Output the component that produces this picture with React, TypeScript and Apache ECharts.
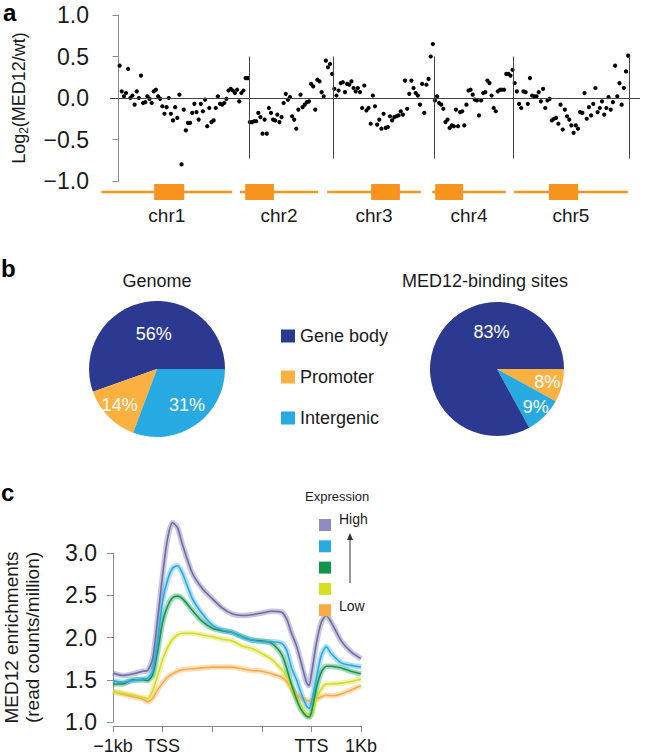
import React, { useEffect, useRef } from 'react';
import * as echarts from 'echarts';

const FONT = '"Liberation Sans", Arial, Helvetica, sans-serif';

// ---------- Panel a: genome-wide log2 ratio ----------
const chrNames = ['chr1', 'chr2', 'chr3', 'chr4', 'chr5'];
const chrLengths = [30.4, 19.7, 23.5, 18.6, 27.0]; // Mb
const chr1Values = [0.39, 0.08, 0.02, 0.06, 0.35, 0.0, 0.03, -0.08, 0.08, 0.0, 0.27, -0.06, -0.05, 0.02, -0.01, -0.06, 0.08, 0.1, 0.02, -0.01, -0.1, -0.19, -0.11, 0.0, -0.19, -0.27, -0.11, -0.24, 0.04, -0.8, -0.14, -0.39, -0.3, -0.3, -0.18, -0.07, -0.17, -0.26, -0.07, -0.16, -0.02, -0.34, -0.12, -0.29, -0.27, -0.12, 0.02, -0.07, -0.08, -0.06, -0.01, 0.09, 0.11, 0.09, 0.06, 0.1, -0.04, 0.06, 0.09, 0.24, 0.24];
const chr2Values = [-0.29, -0.29, -0.28, -0.28, -0.18, -0.23, -0.43, -0.26, -0.43, -0.12, -0.18, -0.26, -0.27, -0.2, -0.29, -0.23, -0.06, 0.05, -0.02, 0.01, -0.22, -0.26, -0.37, -0.14, 0.04, -0.11, -0.08, -0.05, -0.04, 0.17, 0.14, -0.14, 0.22, 0.2, 0.07, 0.02, 0.45, 0.37, 0.41, 0.29];
const chr3Values = [0.11, 0.03, 0.09, 0.18, 0.19, 0.07, 0.17, 0.16, 0.2, 0.12, 0.08, 0.12, 0.07, -0.12, 0.15, -0.15, -0.12, -0.31, 0.03, -0.1, -0.32, -0.26, -0.37, -0.19, -0.36, -0.35, -0.22, -0.27, -0.23, -0.22, -0.21, -0.16, -0.2, 0.21, -0.13, 0.05, 0.21, 0.12, 0.06, 0.03, -0.08, 0.17, -0.18, 0.16, 0.23, 0.5, 0.65];
const chr4Values = [-0.03, 0.02, -0.06, -0.08, -0.13, -0.29, -0.26, -0.36, -0.33, -0.34, -0.14, -0.34, -0.17, -0.16, -0.33, -0.08, 0.09, 0.1, 0.04, -0.02, -0.03, -0.21, -0.03, 0.06, 0.07, 0.21, 0.18, 0.03, -0.12, -0.16, 0.08, 0.1, 0.1, 0.1, 0.29, 0.29, 0.27, 0.34];
const chr5Values = [0.18, 0.08, -0.07, -0.12, 0.08, 0.07, -0.07, 0.24, 0.03, 0.02, 0.02, 0.07, -0.04, 0.11, -0.12, -0.03, -0.01, -0.27, -0.25, -0.24, -0.31, -0.08, -0.38, -0.14, -0.22, -0.26, -0.33, -0.42, -0.33, -0.37, -0.17, -0.18, 0.06, -0.25, -0.11, -0.21, -0.07, 0.12, -0.17, -0.12, -0.04, -0.2, -0.12, 0.01, -0.14, -0.05, 0.39, 0.02, 0.18, -0.08, 0.12, 0.32, 0.51];
const chrValues = [chr1Values, chr2Values, chr3Values, chr4Values, chr5Values];

// chromosome ideogram (Mb, cumulative)
const ideoLineStart = [-1.9, 29.9, 49.9, 74.0, 92.8];
const ideoLineEnd = [28.1, 47.8, 71.4, 90.9, 118.9];
const centroStart = [10.2, 31.1, 60.0, 74.7, 100.8];
const centroEnd = [17.1, 37.7, 66.6, 81.1, 107.5];

// ---------- Panel b: pies ----------
const pieCategories = ['Gene body', 'Promoter', 'Intergenic'];
const genomePct = [56, 14, 31];
const med12Pct = [83, 8, 9];

// ---------- Panel c: metagene profiles ----------
const profileX = [0, 0.2, 0.4, 0.6, 0.7, 0.8, 0.9, 1.0, 1.1, 1.2, 1.3, 1.4, 1.6, 1.8, 2.0, 2.2, 2.4, 2.6, 2.8, 3.0, 3.2, 3.4, 3.5, 3.6, 3.7, 3.8, 3.9, 3.95, 4.0, 4.1, 4.2, 4.3, 4.4, 4.6, 4.8, 5.0];
const xTickLabels: Record<number, string> = { 0: '−1kb', 1: 'TSS', 4: 'TTS', 5: '1Kb' };
const highValues = [1.58, 1.55, 1.57, 1.6, 1.61, 1.75, 2.22, 2.74, 3.17, 3.36, 3.3, 3.1, 2.76, 2.58, 2.46, 2.35, 2.28, 2.26, 2.27, 2.29, 2.31, 2.3, 2.22, 2.05, 1.9, 1.69, 1.47, 1.43, 1.56, 1.93, 2.18, 2.26, 2.18, 1.96, 1.83, 1.75];
const q4Values = [1.49, 1.47, 1.49, 1.51, 1.52, 1.6, 1.95, 2.43, 2.68, 2.82, 2.85, 2.76, 2.46, 2.28, 2.15, 2.09, 2.06, 2.01, 1.97, 1.95, 1.95, 1.93, 1.85, 1.64, 1.5, 1.33, 1.19, 1.16, 1.23, 1.52, 1.79, 1.89, 1.81, 1.7, 1.67, 1.65];
const q3Values = [1.45, 1.45, 1.5, 1.5, 1.49, 1.56, 1.84, 2.18, 2.37, 2.47, 2.49, 2.46, 2.32, 2.19, 2.11, 2.08, 2.06, 2.01, 1.97, 1.96, 1.93, 1.8, 1.64, 1.44, 1.27, 1.14, 1.07, 1.06, 1.11, 1.4, 1.59, 1.66, 1.66, 1.64, 1.6, 1.57];
const q2Values = [1.36, 1.34, 1.32, 1.29, 1.28, 1.37, 1.55, 1.74, 1.88, 1.98, 2.03, 2.05, 2.05, 2.03, 2.01, 1.98, 1.96, 1.9, 1.87, 1.81, 1.74, 1.62, 1.53, 1.4, 1.28, 1.17, 1.09, 1.07, 1.08, 1.27, 1.39, 1.45, 1.45, 1.46, 1.48, 1.51];
const lowValues = [1.36, 1.33, 1.3, 1.27, 1.24, 1.28, 1.38, 1.46, 1.53, 1.57, 1.6, 1.62, 1.63, 1.64, 1.65, 1.65, 1.65, 1.63, 1.61, 1.6, 1.57, 1.53, 1.48, 1.4, 1.33, 1.28, 1.26, 1.25, 1.24, 1.27, 1.3, 1.32, 1.31, 1.33, 1.38, 1.43];
const profileNames = ['High', 'Upper-middle', 'Middle', 'Lower-middle', 'Low'];
const profileValues = [highValues, q4Values, q3Values, q2Values, lowValues];
const profileColors = ['#6f6ca8', '#29abe2', '#13994a', '#d4dc2a', '#f9aa4c'];
const legendColors = ['#8f8cc2', '#29abe2', '#0f964a', '#d7df23', '#fbab45'];

const ORANGE = '#f7941d';
const NAVY = '#2b3990';
const PROMOTER = '#fbb040';
const INTERGENIC = '#27aae1';
const pieColors = [NAVY, PROMOTER, INTERGENIC];

export default function App() {
  const ref = useRef<HTMLDivElement>(null);
  useEffect(() => {
    if (!ref.current) return;
    const chart = echarts.init(ref.current, undefined, { renderer: 'svg' });

    const chrStart: number[] = [];
    let acc = 0;
    chrLengths.forEach((l) => { chrStart.push(acc); acc += l; });
    const chrEnds = chrStart.map((s, i) => s + chrLengths[i]);
    const scatterData: number[][] = [];
    chrValues.forEach((vals, c) => {
      const step = chrLengths[c] / vals.length;
      vals.forEach((v, i) => scatterData.push([chrStart[c] + (i + 0.5) * step, v]));
    });

    const ideoData = chrNames.map((_, i) => [ideoLineStart[i], ideoLineEnd[i], centroStart[i], centroEnd[i]]);

    const genomeOffsets = [[3, 1], [-11, 10], [9, 6]];
    const med12Order = [1, 2, 0];
    const med12Offsets = [[15, 4], [13, 12], [26, -18]];

    const axisGrey = '#8a8a8a';

    const bandSeries = profileValues.map((vals, k) => ({
      type: 'line',
      xAxisIndex: 2,
      yAxisIndex: 2,
      data: profileX.map((x, i) => [x, vals[i]]),
      smooth: 0.25,
      showSymbol: false,
      clip: false,
      silent: true,
      z: 2,
      lineStyle: { color: profileColors[k], width: 5.5, opacity: 0.38 },
      itemStyle: { color: profileColors[k] },
      ...(k === 4
        ? {
            markLine: {
              silent: true,
              symbol: ['none', 'none'],
              label: { show: false },
              lineStyle: { color: '#d4d4d4', width: 1.5, type: 'solid' },
              data: [
                [{ coord: [1, 1] }, { coord: [1, 3.46] }],
                [{ coord: [4, 1] }, { coord: [4, 3.46] }],
              ],
            },
          }
        : {}),
    }));
    const lineSeries = profileValues.map((vals, k) => ({
      type: 'line',
      name: profileNames[k],
      xAxisIndex: 2,
      yAxisIndex: 2,
      data: profileX.map((x, i) => [x, vals[i]]),
      smooth: 0.25,
      showSymbol: false,
      clip: false,
      silent: true,
      z: 3,
      lineStyle: { color: profileColors[k], width: 1.6 },
      itemStyle: { color: legendColors[k] },
    }));

    const option: any = {
      animation: false,
      textStyle: { fontFamily: FONT },
      grid: [
        { left: 101, top: 15, width: 539, height: 166 },
        { left: 101, top: 184, width: 539, height: 16 },
        { left: 104, top: 553, width: 257, height: 169 },
      ],
      xAxis: [
        { type: 'value', gridIndex: 0, min: -2, max: 121.7, show: false },
        { type: 'value', gridIndex: 1, min: -2, max: 121.7, show: false },
        {
          type: 'value', gridIndex: 2, min: 0, max: 5, interval: 1, offset: 4,
          axisLine: { show: true, lineStyle: { color: axisGrey, width: 1 } },
          axisTick: { show: true, length: 6, lineStyle: { color: axisGrey } },
          splitLine: { show: false },
          axisLabel: {
            fontSize: 18, color: '#1a1a1a', margin: 11, fontFamily: FONT,
            formatter: (v: number) => xTickLabels[v] ?? '',
          },
        },
      ],
      yAxis: [
        {
          type: 'value', gridIndex: 0, min: -1, max: 1, interval: 0.5, offset: 12,
          axisLine: { show: true, lineStyle: { color: axisGrey } },
          axisTick: { show: true, length: 6, lineStyle: { color: axisGrey } },
          splitLine: { show: false },
          axisLabel: {
            fontSize: 23, color: '#1a1a1a', margin: 9, fontFamily: FONT,
            formatter: (v: number) => v.toFixed(1).replace('-', '−'),
          },
          name: 'Log{sub|2}(MED12/wt)',
          nameLocation: 'middle',
          nameGap: 68,
          nameTextStyle: {
            fontSize: 18, color: '#1a1a1a', fontFamily: FONT, lineHeight: 22,
            rich: { sub: { fontSize: 12, verticalAlign: 'bottom', lineHeight: 22, fontFamily: FONT, color: '#1a1a1a' } },
          },
        },
        { type: 'value', gridIndex: 1, min: 0, max: 1, show: false },
        {
          type: 'value', gridIndex: 2, min: 1, max: 3, interval: 0.5, offset: 8,
          axisLine: { show: true, lineStyle: { color: axisGrey } },
          axisTick: { show: true, length: 6, lineStyle: { color: axisGrey } },
          splitLine: { show: false },
          axisLabel: {
            fontSize: 23, color: '#1a1a1a', margin: 8, fontFamily: FONT,
            formatter: (v: number) => v.toFixed(1),
          },
          name: 'MED12 enrichments\n(read counts/million)',
          nameLocation: 'middle',
          nameGap: 62,
          nameTextStyle: { fontSize: 19, color: '#1a1a1a', fontFamily: FONT, lineHeight: 21 },
        },
      ],
      legend: [
        {
          data: pieCategories,
          orient: 'vertical',
          left: 276,
          top: 322,
          itemWidth: 14,
          itemHeight: 13,
          itemGap: 23,
          icon: 'rect',
          selectedMode: false,
          textStyle: { fontSize: 18, color: '#1a1a1a', fontFamily: FONT, lineHeight: 18 },
        },
        {
          data: profileNames,
          orient: 'vertical',
          left: 314,
          top: 514,
          itemWidth: 12,
          itemHeight: 12,
          itemGap: 9.3,
          icon: 'rect',
          selectedMode: false,
          formatter: () => '',
          textStyle: { fontSize: 12, lineHeight: 12 },
        },
      ],
      graphic: [
        { type: 'text', left: 3, top: 0, style: { text: 'a', font: `bold 24px ${FONT}`, fill: '#000' } },
        { type: 'text', left: 1, top: 256, style: { text: 'b', font: `bold 24px ${FONT}`, fill: '#000' } },
        { type: 'text', left: 1, top: 480, style: { text: 'c', font: `bold 24px ${FONT}`, fill: '#000' } },
        { type: 'text', x: 157, y: 281, style: { text: 'Genome', font: `18px ${FONT}`, fill: '#1a1a1a', align: 'center', verticalAlign: 'middle' } },
        { type: 'text', x: 485, y: 281, style: { text: 'MED12-binding sites', font: `18px ${FONT}`, fill: '#1a1a1a', align: 'center', verticalAlign: 'middle' } },
        { type: 'text', x: 305, y: 496, style: { text: 'Expression', font: `13px ${FONT}`, fill: '#1a1a1a', align: 'left', verticalAlign: 'middle' } },
        { type: 'text', x: 339, y: 519, style: { text: 'High', font: `14px ${FONT}`, fill: '#1a1a1a', align: 'left', verticalAlign: 'middle' } },
        { type: 'text', x: 339, y: 606, style: { text: 'Low', font: `14px ${FONT}`, fill: '#1a1a1a', align: 'left', verticalAlign: 'middle' } },
        { type: 'line', shape: { x1: 350, y1: 583, x2: 350, y2: 538 }, style: { stroke: '#333', lineWidth: 1 } },
        { type: 'polygon', shape: { points: [[347, 540], [353, 540], [350, 533]] }, style: { fill: '#333' } },
      ],
      series: [
        {
          type: 'scatter',
          xAxisIndex: 0,
          yAxisIndex: 0,
          data: scatterData,
          symbolSize: 4.2,
          itemStyle: { color: '#000', opacity: 1 },
          silent: true,
          z: 3,
          markLine: {
            silent: true,
            symbol: ['none', 'none'],
            label: { show: false },
            lineStyle: { color: '#444', width: 1, type: 'solid' },
            data: [
              { yAxis: 0 },
              ...chrEnds.map((e) => [{ coord: [e, 0.5] }, { coord: [e, -0.73] }]),
            ],
          },
        },
        {
          type: 'custom',
          xAxisIndex: 1,
          yAxisIndex: 1,
          data: ideoData,
          silent: true,
          renderItem: (params: any, api: any) => {
            const ls = api.coord([api.value(0), 0.5]);
            const le = api.coord([api.value(1), 0.5]);
            const b0 = api.coord([api.value(2), 1]);
            const b1 = api.coord([api.value(3), 0]);
            const mid = api.coord([(api.value(0) + api.value(1)) / 2, 0]);
            return {
              type: 'group',
              children: [
                { type: 'rect', shape: { x: ls[0], y: ls[1] - 1.25, width: le[0] - ls[0], height: 2.5 }, style: { fill: ORANGE } },
                { type: 'rect', shape: { x: b0[0], y: b0[1], width: b1[0] - b0[0], height: b1[1] - b0[1] }, style: { fill: ORANGE } },
                {
                  type: 'text', x: mid[0], y: mid[1] + 15,
                  style: { text: chrNames[params.dataIndex], font: `19px ${FONT}`, fill: '#1a1a1a', align: 'center', verticalAlign: 'middle' },
                },
              ],
            };
          },
        },
        {
          type: 'pie',
          center: [157, 369],
          radius: 68,
          startAngle: 0,
          clockwise: false,
          silent: true,
          data: pieCategories.map((n, i) => ({ name: n, value: genomePct[i], itemStyle: { color: pieColors[i] } })),
          label: { show: true, position: 'inside', formatter: '{c}%', color: '#fff', fontSize: 18, fontFamily: FONT },
          labelLine: { show: false },
          labelLayout: (p: any) => ({ dx: genomeOffsets[p.dataIndex][0], dy: genomeOffsets[p.dataIndex][1] }),
        },
        {
          type: 'pie',
          center: [497, 369],
          radius: 67,
          startAngle: 0,
          clockwise: true,
          silent: true,
          data: med12Order.map((ci) => ({ name: pieCategories[ci], value: med12Pct[ci], itemStyle: { color: pieColors[ci] } })),
          label: { show: true, position: 'inside', formatter: '{c}%', color: '#fff', fontSize: 18, fontFamily: FONT },
          labelLine: { show: false },
          labelLayout: (p: any) => ({ dx: med12Offsets[p.dataIndex][0], dy: med12Offsets[p.dataIndex][1] }),
        },
        ...bandSeries.slice().reverse(),
        ...lineSeries.slice().reverse(),
      ],
    };
    chart.setOption(option);
    return () => chart.dispose();
  }, []);
  return <div ref={ref} style={{ position: 'absolute', left: 0, top: 0, width: 666, height: 755, background: '#fff' }} />;
}
